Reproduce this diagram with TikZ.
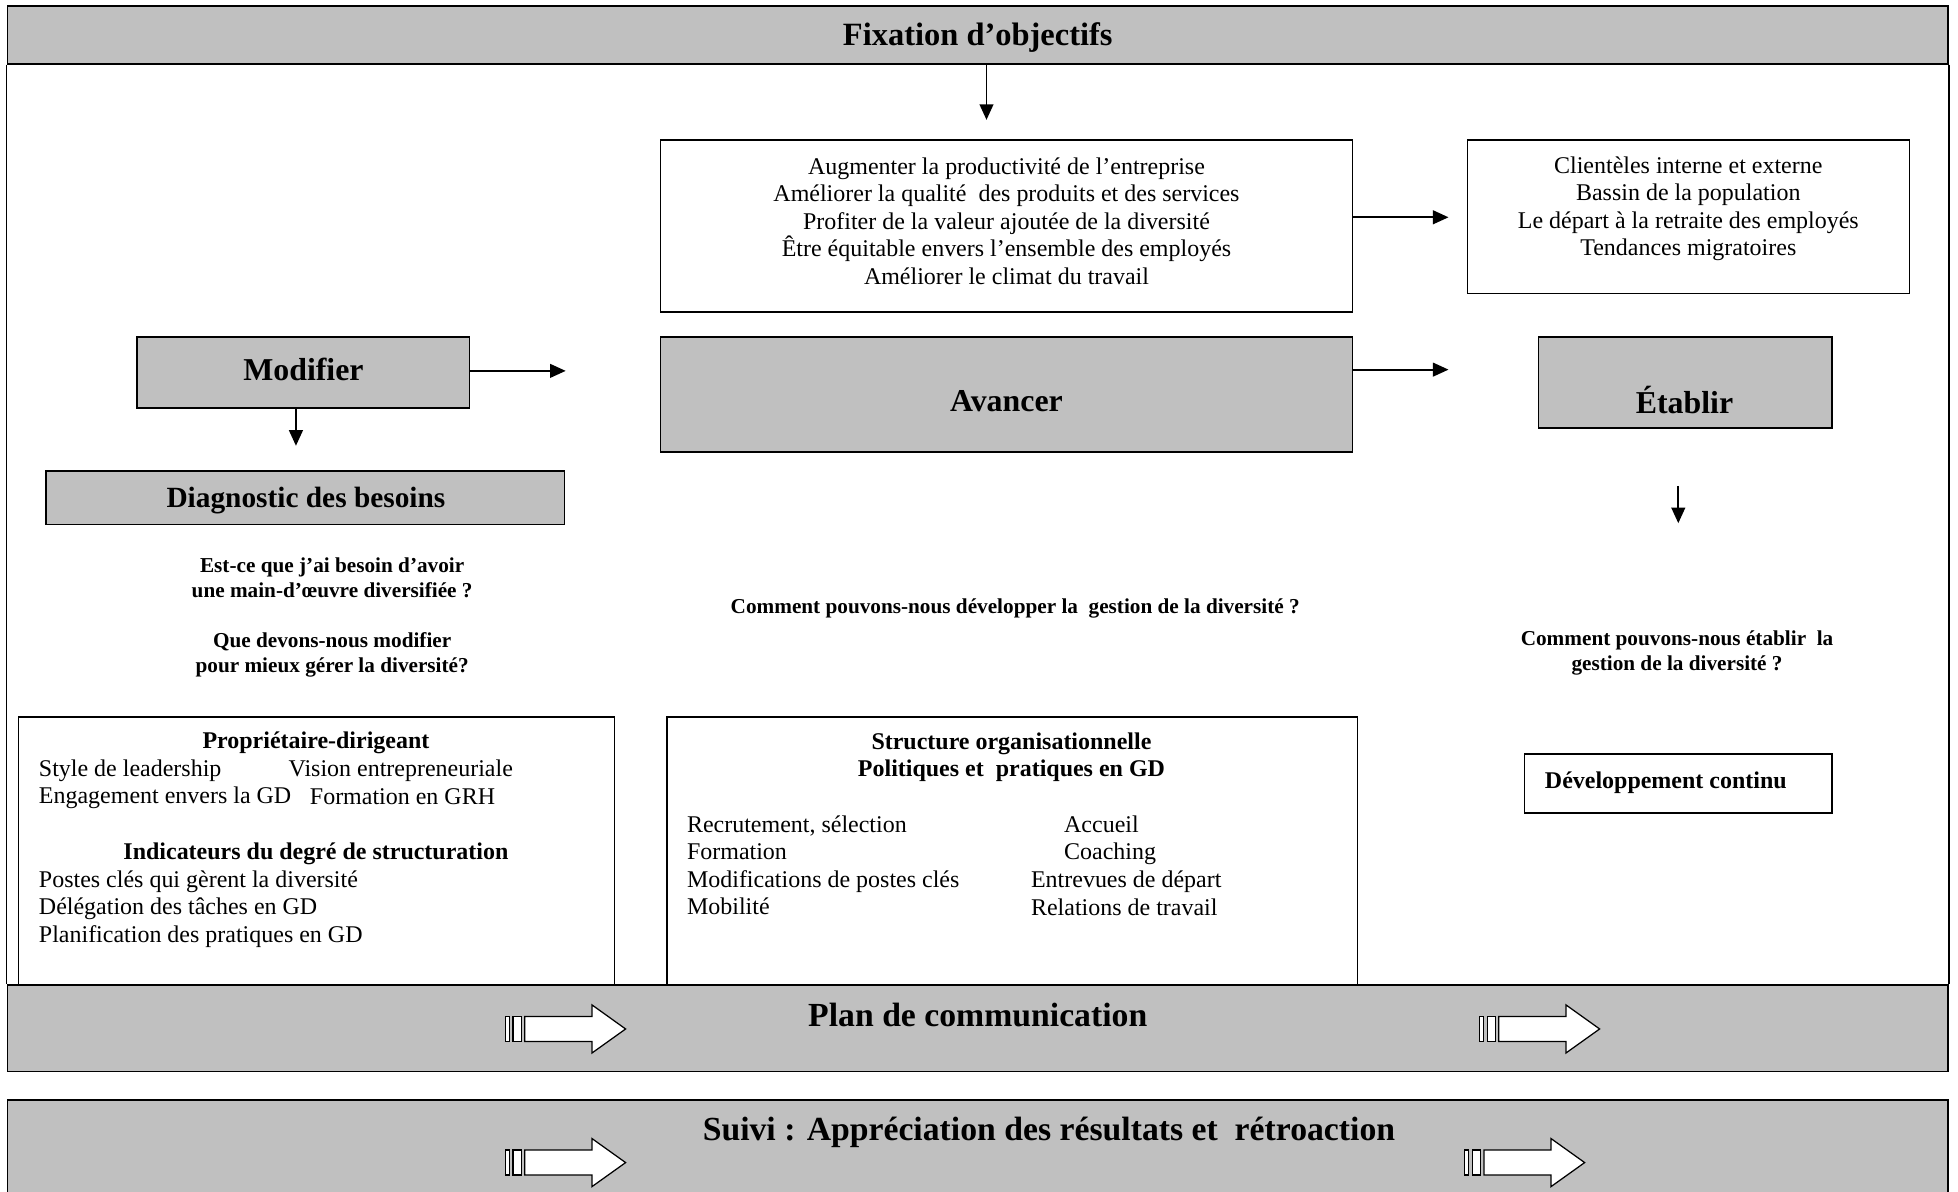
\documentclass[tikz,border=0pt]{standalone}
\usepackage{fontspec}
\setmainfont{Liberation Serif}
\usetikzlibrary{fit,arrows.meta}
\definecolor{panelgray}{RGB}{192,192,192}
\newcommand\setsize[2]{\fontsize{#1pt}{#2pt}\selectfont}

\begin{document}
\begin{tikzpicture}[x=1pt,y=-1pt,
  frame/.style={line width=1.4pt},
  graybox/.style={draw, fill=panelgray, line width=1.4pt, inner sep=0pt},
  whitebox/.style={draw, fill=white, line width=1.2pt, inner sep=0pt},
  body/.style={font=\setsize{19.2}{22}, inner sep=0pt, align=center},
  bodyl/.style={font=\setsize{19.2}{22}, inner sep=0pt, align=left},
  head/.style={font=\setsize{19.2}{22}\bfseries, inner sep=0pt, align=center},
  quest/.style={font=\setsize{17}{20}\bfseries, inner sep=0pt, align=center},
  big/.style={font=\setsize{25.5}{28}\bfseries, inner sep=0pt},
  banner/.style={font=\setsize{27}{30}\bfseries, inner sep=0pt},
  arr/.style={line width=1.5pt, -{Triangle[length=12.5pt,width=11pt]}},
  stripearrow/.pic={
    \draw[fill=white, line width=1pt] (0,-10) rectangle (3.2,10);
    \draw[fill=white, line width=1pt] (5.9,-10) rectangle (12.6,10);
    \draw[fill=white, line width=1pt, line join=miter]
      (15.3,-10) -- (69,-10) -- (69,-19.3) -- (96,0) -- (69,19.3)
      -- (69,10) -- (15.3,10) -- cycle;
  },
  ]
\useasboundingbox (0,0) rectangle (1568,954);
\clip (0,0) rectangle (1568,954);

% top banner
\node[graybox, fit={(6,5) (1560,51)}] (fix) {};
\node[banner, font=\setsize{26}{30}\bfseries] (fixtxt) at (783,30) {Fixation d’objectifs};

% objectives and context boxes
\node[whitebox, fit={(529,112) (1083,250)}] (obj) {};
\node[body] (objtxt) at (806,177) {Augmenter la productivité de l’entreprise\\
  Améliorer la qualité~ des produits et des services\\
  Profiter de la valeur ajoutée de la diversité\\
  Être équitable envers l’ensemble des employés\\
  Améliorer le climat du travail};
\node[whitebox, fit={(1175,112) (1529,235)}] (cli) {};
\node[body] (clitxt) at (1352,167) {Clientèles interne et externe\\
  Bassin de la population\\
  Le départ à la retraite des employés\\
  Tendances migratoires};

% the three stages
\node[graybox, fit={(110,270) (376,327)}] (mod) {};
\node[big] (modtxt) at (243,296) {Modifier};
\node[graybox, fit={(529,270) (1083,362)}] (av) {};
\node[big] (avtxt) at (806,321) {Avancer};
\node[graybox, fit={(1232,270) (1467,343)}] (etab) {};
\node[big] (etabtxt) at (1349,320) {Établir};

\node[graybox, fit={(37,377) (452,420)}] (diag) {};
\node[font=\setsize{23.5}{26}\bfseries, inner sep=0pt] (diagtxt) at (245,401) {Diagnostic des besoins};

% questions
\node[quest] (q1) at (266,494.5) {Est-ce que j’ai besoin d’avoir\\
  une main-d’œuvre diversifiée ?\\[20pt]
  Que devons-nous modifier\\
  pour mieux gérer la diversité?};
\node[quest] (q2) at (813,487) {Comment pouvons-nous développer la~ gestion de la diversité ?};
\node[quest] (q3) at (1343,523) {Comment pouvons-nous établir~ la\\gestion de la diversité ?};

\node[whitebox, fit={(1221,604) (1467,651)}] (dev) {};
\node[head, anchor=west] (devtxt) at (1237,627) {Développement continu};

% lower boxes
\node[whitebox, fit={(15,574) (492,789)}] (prop) {};
\node[head] (proph) at (253,595) {Propriétaire-dirigeant};
\node[bodyl, anchor=west] (propl) at (31,628) {Style de leadership\\Engagement envers la GD};
\node[bodyl, anchor=west] (propr1) at (231,617) {Vision entrepreneuriale};
\node[bodyl, anchor=west] (propr2) at (248,638) {Formation en GRH};
\node[head] (indh) at (253,684) {Indicateurs du degré de structuration};
\node[bodyl, anchor=west] (indl) at (31,728) {Postes clés qui gèrent la diversité\\
  Délégation des tâches en GD\\
  Planification des pratiques en GD};

\node[whitebox, fit={(534,574) (1087,789)}] (struct) {};
\node[head] (structh) at (810,606.5) {Structure organisationnelle\\Politiques et~ pratiques en GD};
\node[bodyl, anchor=west] (structl) at (550,693) {Recrutement, sélection\\Formation\\
  Modifications de postes clés\\Mobilité};
\node[bodyl, anchor=west] (structr1) at (852,673) {Accueil\\Coaching};
\node[bodyl, anchor=west] (structr2) at (825.5,715.5) {Entrevues de départ\\Relations de travail};

% bottom banners
\node[graybox, fit={(6,789) (1560,858)}] (plan) {};
\node[banner] (plantxt) at (783,813) {Plan de communication};
\node[graybox, fit={(6,881) (1560,975)}] (suivi) {};
\node[banner] (suivitxt) at (840,907) {Suivi : Appréciation des résultats et~ rétroaction};

% side walls of the main frame
\draw[frame] (fix.south west) -- (plan.north west);
\draw[frame] (fix.south east) -- (plan.north east);

% connectors
\coordinate (t1) at (790,96);
\draw[arr] (fix.south -| t1) -- (t1);
\coordinate (t2) at (1160,174);
\draw[arr] (obj.east |- t2) -- (t2);
\coordinate (t3) at (1160,296);
\draw[arr] (av.east |- t3) -- (t3);
\coordinate (t4) at (453,297);
\draw[arr] (mod.east |- t4) -- (t4);
\coordinate (t5) at (237,357);
\draw[arr] (mod.south -| t5) -- (t5);
\coordinate (e1) at (1344,389);
\coordinate (e2) at (1344,419);
\draw[arr] (e1) -- (e2);

% striped block arrows
\pic at (405,824) {stripearrow};
\pic at (1185,824) {stripearrow};
\pic at (405,931) {stripearrow};
\pic at (1173,931) {stripearrow};
\end{tikzpicture}
\end{document}
